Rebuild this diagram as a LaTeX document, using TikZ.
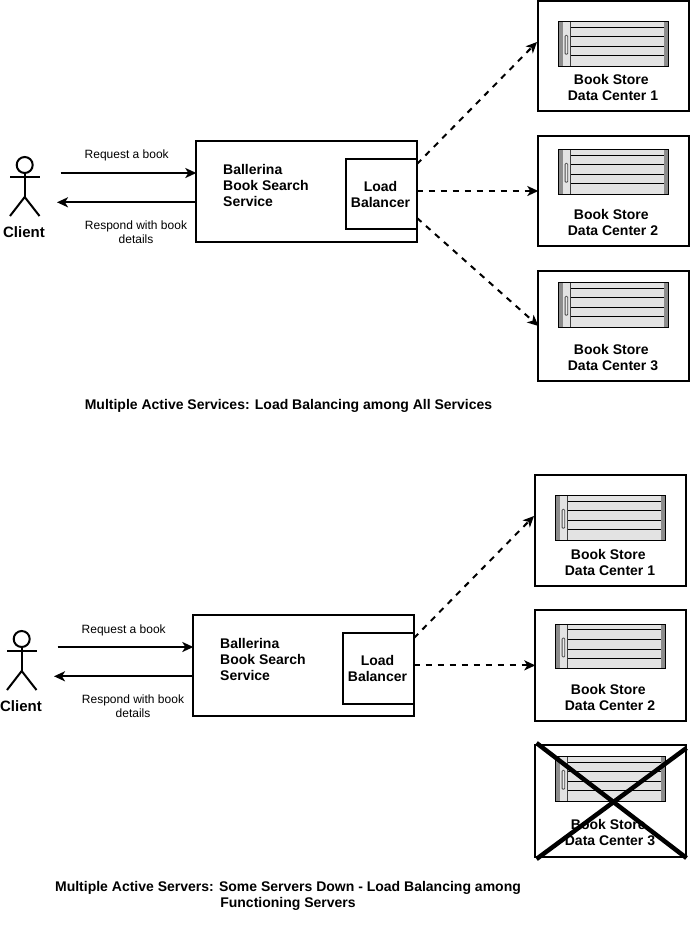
\documentclass[tikz,border=0pt]{standalone}
\usepackage{fontspec}
\setmainfont{Liberation Sans}
\usetikzlibrary{arrows.meta,calc}
\tikzset{
  x=1pt,y=-1pt,
  box/.style={draw=black,line width=2pt,fill=white,inner sep=0pt,outer sep=0pt},
  boldtxt/.style={font=\fontsize{14}{16}\selectfont\bfseries,align=center,inner sep=0pt,text=black},
  clienttxt/.style={font=\fontsize{15}{16}\selectfont\bfseries,align=center,inner sep=0pt,text=black},
  smalltxt/.style={font=\fontsize{12}{14}\selectfont,align=center,inner sep=0pt,text=black},
  solidarrow/.style={draw=black,line width=2pt,-{Stealth[length=11pt,width=10pt,inset=3pt]}},
  dasharrow/.style={draw=black,line width=2pt,dash pattern=on 6pt off 6pt,-{Stealth[length=11pt,width=10pt,inset=3pt]}},
  stick/.style={draw=black,line width=2pt},
  crossline/.style={draw=black,line width=4.5pt},
  shelf/.style={draw=black,line width=1pt},
}
% data centre: name, box top, number, box height, server top, label centre
\newcommand{\dcunit}[6]{%
  \node[box,minimum width=150.3pt,minimum height=#4pt,anchor=north west] (#1) at (538.3,#2) {};
  \begin{scope}[shift={(558.3,#5)}]
    \fill[black!11] (0,0) rectangle (110.4,44.7);
    \fill[black!45] (0,0) rectangle (4.3,44.7);
    \fill[black!45] (106,0) rectangle (110.4,44.7);
    \draw[shelf] (12,5.7) -- (106,5.7);
    \draw[shelf] (12,15.3) -- (106,15.3);
    \draw[shelf] (12,25) -- (106,25);
    \draw[shelf] (12,34.6) -- (106,34.6);
    \draw[black!75,line width=1pt] (12,0) -- (12,44.7);
    \draw[black!70,fill=black!8,line width=.8pt,rounded corners=1pt] (6.8,14) rectangle (9.4,33);
    \draw[black,line width=1pt] (0,0) rectangle (110.4,44.7);
  \end{scope}
  \node[boldtxt] (#1-label) at (613,#6) {Book Store\hspace*{3.5pt}\\Data Center #3};
}
% prefix, balancer height, y of the request label
\newcommand{\svcunit}[3]{%
  \node[box,minimum width=220.2pt,minimum height=100.2pt,anchor=north west] (#1svc) at (196.3,141.3) {};
  \node[box,minimum width=70.5pt,minimum height=#2pt,anchor=north west] (#1lb) at (346,159) {};
  \node[boldtxt,align=left,anchor=west] (#1svctxt) at (223,185) {Ballerina\\Book Search\\Service};
  \node[boldtxt] (#1lbtxt) at (380.5,194) {Load\\Balancer};
  \node[stick,circle,minimum size=16pt,inner sep=0pt,outer sep=0pt] (#1head) at (24.7,165) {};
  \coordinate (#1hip) at (24.7,197);
  \coordinate (#1handl) at (10,176.5);
  \coordinate (#1handr) at (39.5,176.5);
  \coordinate (#1footl) at (10,216);
  \coordinate (#1footr) at (39.5,216);
  \draw[stick] (#1head.south) -- (#1hip);
  \draw[stick] (#1handl) -- (#1handr);
  \draw[stick] (#1footl) -- (#1hip) -- (#1footr);
  \node[clienttxt] (#1client) at (24,232) {Client};
  \coordinate (#1reqstart) at (60.5,173);
  \coordinate (#1respend) at (57,202.3);
  \draw[solidarrow] (#1reqstart) -- (#1svc.west |- #1reqstart);
  \draw[solidarrow] (#1svc.west |- #1respend) -- (#1respend);
  \node[smalltxt] (#1req) at (126.7,#3) {Request a book};
  \node[smalltxt] (#1resp) at (136,232) {Respond with book\\details};
}
\begin{document}
\begin{tikzpicture}
\useasboundingbox (0,0) rectangle (690,938);
\fill[white] (0,0) rectangle (690,938);

% upper diagram
\svcunit{a}{70}{155.5}
\dcunit{adc1}{1}{1}{110}{21.3}{87}
\dcunit{adc2}{136}{2}{110}{149.3}{222}
\dcunit{adc3}{271}{3}{110}{282.3}{357}
\coordinate (afrom1) at (417,164);
\coordinate (ato1) at (537,42);
\coordinate (afrom3) at (417,218);
\coordinate (ato3) at (538.5,326);
\draw[dasharrow] (afrom1) -- (ato1);
\draw[dasharrow] (alb.east |- adc2.west) -- (adc2.west);
\draw[dasharrow] (afrom3) -- (ato3);
\node[boldtxt] (acap) at (288.5,406) {Multiple Active Services: Load Balancing among All Services};

% lower diagram
\begin{scope}[shift={(-3,474)}]
\svcunit{b}{71.3}{156.5}
\dcunit{bdc1}{1}{1}{110.7}{21.3}{88}
\dcunit{bdc2}{136}{2}{110.7}{150}{223}
\dcunit{bdc3}{271}{3}{112}{282.3}{358}
\coordinate (bfrom1) at (417,164);
\coordinate (bto1) at (537,42);
\draw[dasharrow] (bfrom1) -- (bto1);
\draw[dasharrow] (blb.east |- bdc2.west) -- (bdc2.west);
\coordinate (bxa) at (539.5,269);
\coordinate (bxb) at (689.5,384);
\coordinate (bxc) at (689.5,274);
\coordinate (bxd) at (539.5,385);
\draw[crossline] (bxa) -- (bxb);
\draw[crossline] (bxc) -- (bxd);
\end{scope}
\node[boldtxt] (bcap) at (288,896) {Multiple Active Servers: Some Servers Down - Load Balancing among\\Functioning Servers};
\end{tikzpicture}
\end{document}
